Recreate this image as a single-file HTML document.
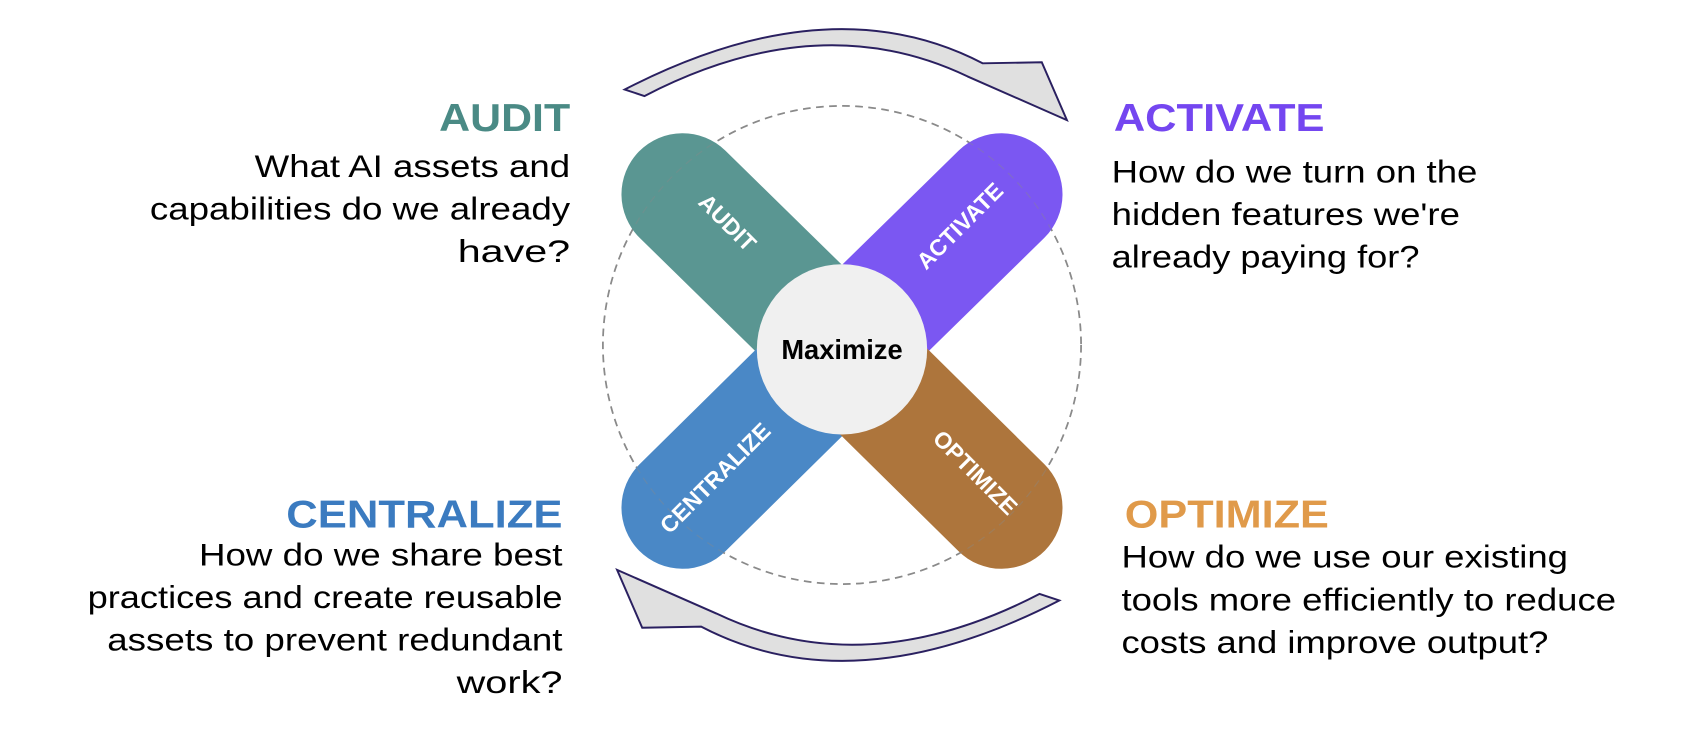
<!DOCTYPE html>
<html><head><meta charset="utf-8"><style>html,body{margin:0;padding:0;background:#fff}svg{display:block}</style></head>
<body>
<svg width="1708" height="738" viewBox="0 0 1564 676" xmlns="http://www.w3.org/2000/svg" font-family="'Liberation Sans', Arial, sans-serif">
<rect width="1564" height="676" fill="#fff"/>
<circle cx="771" cy="316" r="219" fill="none" stroke="#8a8a8a" stroke-width="1.6" stroke-dasharray="7 5"/>
<g stroke-linecap="round" stroke-width="112">
<line x1="771" y1="321" x2="625" y2="178" stroke="#5a9692"/>
<line x1="771" y1="321" x2="917" y2="178" stroke="#7b57f2"/>
<line x1="771" y1="321" x2="625" y2="465" stroke="#4a88c6"/>
<line x1="771" y1="321" x2="917" y2="465" stroke="#ad753c"/>
</g>
<circle cx="771" cy="320" r="78" fill="#f0f0f0"/>
<circle cx="771" cy="316" r="219" fill="none" stroke="#8a8a8a" stroke-width="1.2" stroke-dasharray="7 5" opacity="0.35"/>
<text x="771" y="329" font-size="25" font-weight="bold" text-anchor="middle" fill="#000">Maximize</text>
<g fill="#fff" font-weight="bold" font-size="21" text-anchor="middle">
<text transform="translate(661,209) rotate(45)">AUDIT</text>
<text transform="translate(884,212) rotate(-45)">ACTIVATE</text>
<text transform="translate(660,443) rotate(-45)">CENTRALIZE</text>
<text transform="translate(888,438) rotate(45)">OPTIMIZE</text>
</g>
<path d="M572 82 Q760 -15 900 58 L954 57 L977 110 L886 70 Q750 5 590 88 Z" fill="#e0e0e0" stroke="#2a2060" stroke-width="1.8"/>
<path d="M572 82 Q760 -15 900 58 L954 57 L977 110 L886 70 Q750 5 590 88 Z" fill="#e0e0e0" stroke="#2a2060" stroke-width="1.8" transform="rotate(180 771 316)"/>
<g font-weight="bold" font-size="36">
<text x="522" y="120" text-anchor="end" fill="#4a8a85" textLength="120" lengthAdjust="spacingAndGlyphs">AUDIT</text>
<text x="1020" y="120" fill="#7446f0" textLength="193" lengthAdjust="spacingAndGlyphs">ACTIVATE</text>
<text x="515" y="483" text-anchor="end" fill="#3b7bc0" textLength="253" lengthAdjust="spacingAndGlyphs">CENTRALIZE</text>
<text x="1030" y="483" fill="#e09a4a" textLength="187" lengthAdjust="spacingAndGlyphs">OPTIMIZE</text>
</g>
<g font-size="29" fill="#000">
<text x="522" y="162" text-anchor="end" textLength="289" lengthAdjust="spacingAndGlyphs">What AI assets and</text>
<text x="522" y="201" text-anchor="end" textLength="385" lengthAdjust="spacingAndGlyphs">capabilities do we already</text>
<text x="522" y="240" text-anchor="end" textLength="103" lengthAdjust="spacingAndGlyphs">have?</text>
<text x="1018" y="167" textLength="335" lengthAdjust="spacingAndGlyphs">How do we turn on the</text>
<text x="1018" y="206" textLength="319" lengthAdjust="spacingAndGlyphs">hidden features we're</text>
<text x="1018" y="245" textLength="282" lengthAdjust="spacingAndGlyphs">already paying for?</text>
<text x="515" y="518" text-anchor="end" textLength="333" lengthAdjust="spacingAndGlyphs">How do we share best</text>
<text x="515" y="557" text-anchor="end" textLength="435" lengthAdjust="spacingAndGlyphs">practices and create reusable</text>
<text x="515" y="596" text-anchor="end" textLength="417" lengthAdjust="spacingAndGlyphs">assets to prevent redundant</text>
<text x="515" y="635" text-anchor="end" textLength="97" lengthAdjust="spacingAndGlyphs">work?</text>
<text x="1027" y="520" textLength="409" lengthAdjust="spacingAndGlyphs">How do we use our existing</text>
<text x="1027" y="559" textLength="453" lengthAdjust="spacingAndGlyphs">tools more efficiently to reduce</text>
<text x="1027" y="598" textLength="391" lengthAdjust="spacingAndGlyphs">costs and improve output?</text>
</g>
</svg>
</body></html>
